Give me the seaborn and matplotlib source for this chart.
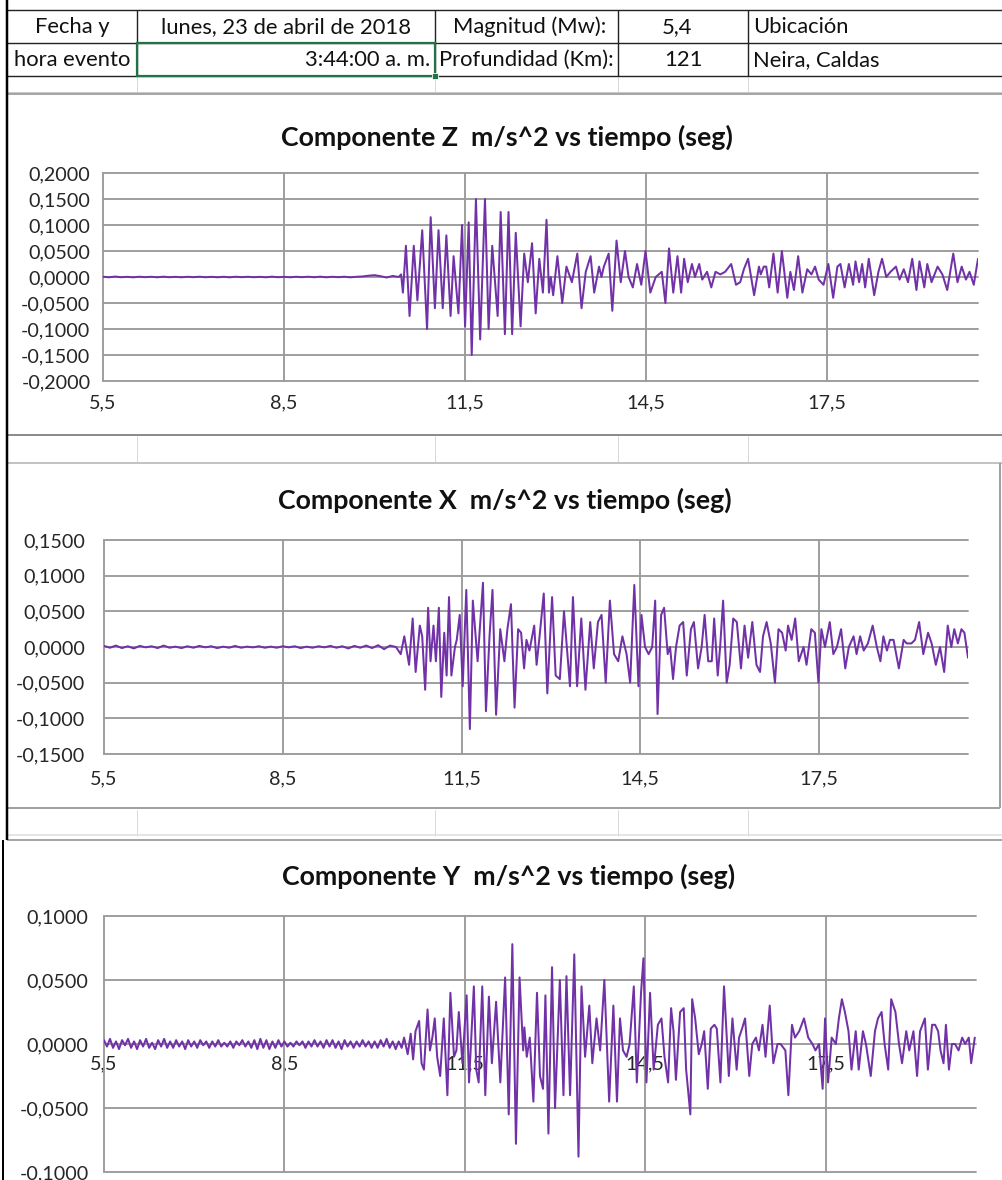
import numpy as np
import matplotlib
matplotlib.use("Agg")
import matplotlib.pyplot as plt
import seaborn as sns
from matplotlib.ticker import FuncFormatter, MultipleLocator, FixedLocator
from matplotlib.patches import Rectangle

# ---------------- data ----------------
x_ticks = [5.5, 8.5, 11.5, 14.5, 17.5]
titles = ["Componente Z  m/s^2 vs tiempo (seg)",
          "Componente X  m/s^2 vs tiempo (seg)",
          "Componente Y  m/s^2 vs tiempo (seg)"]

# quiet pre-event samples (regular sampling grid)
quiet_t = np.round(np.arange(5.5, 10.35, 0.1), 2)
quiet_t_y = np.round(np.arange(5.5, 10.38, 0.05), 2)

z_quiet = [0.0005, -0.0005, 0.0008, -0.0004, 0.0003, -0.0006, 0.0005, -0.0003, 0.0004, -0.0005,
           0.0006, -0.0004, 0.0003, -0.0005, 0.0004, -0.0003, 0.0005, -0.0004, 0.0003, -0.0005,
           0.0004, -0.0006, 0.0005, -0.0003, 0.0004, -0.0004, 0.0003, -0.0005, 0.0006, -0.0004,
           0.0003, -0.0005, 0.0004, -0.0003, 0.0005, -0.0004, 0.0006, -0.0005, 0.0004, -0.0003,
           0.0005, -0.0006, 0.0004, 0.0010, 0.0025, 0.0035, 0.0015, -0.0010, 0.0020]
x_quiet = [0.0015, -0.0010, 0.0020, -0.0015, 0.0010, -0.0020, 0.0015, -0.0005, 0.0010, -0.0015,
           0.0020, -0.0010, 0.0005, -0.0015, 0.0010, -0.0010, 0.0015, -0.0005, 0.0010, -0.0015,
           0.0005, -0.0010, 0.0015, -0.0010, 0.0005, -0.0005, 0.0010, -0.0010, 0.0005, -0.0010,
           0.0010, -0.0005, 0.0010, -0.0015, 0.0005, -0.0010, 0.0010, -0.0005, 0.0015, -0.0010,
           0.0010, -0.0020, 0.0015, -0.0010, 0.0020, -0.0015, 0.0025, -0.0030, 0.0020]
y_quiet = [0.003, -0.002, 0.004, -0.003, 0.002, -0.004, 0.003, -0.001, 0.004, -0.003,
           0.002, -0.004, 0.003, -0.002, 0.004, -0.003, 0.001, -0.004, 0.003, -0.002,
           0.004, -0.003, 0.002, -0.003, 0.003, -0.002, 0.002, -0.004, 0.003, -0.002,
           0.002, -0.003, 0.003, -0.001, 0.002, -0.003, 0.002, -0.002, 0.003, -0.002,
           0.001, -0.002, 0.002, -0.003, 0.002, -0.001, 0.003, -0.002, 0.002, -0.003,
           0.003, -0.004, 0.004, -0.003, 0.003, -0.004, 0.002, -0.003, 0.003, -0.002,
           0.002, -0.002, 0.001, -0.002, 0.002, -0.001, 0.002, -0.003, 0.002, -0.002,
           0.003, -0.002, 0.002, -0.003, 0.003, -0.002, 0.003, -0.003, 0.002, -0.004,
           0.003, -0.002, 0.002, -0.003, 0.002, -0.002, 0.003, -0.002, 0.002, -0.003,
           0.002, -0.003, 0.003, -0.002, 0.004, -0.003, 0.002, -0.004]

# event: turning points (time s, acceleration m/s^2)
z_time = [10.40, 10.44, 10.47, 10.52, 10.58, 10.65, 10.71, 10.79, 10.87, 10.93, 11.00, 11.06, 11.13,
          11.19, 11.26, 11.31, 11.39, 11.45, 11.50, 11.56, 11.61, 11.68, 11.75, 11.83, 11.89, 11.95,
          12.04, 12.09, 12.16, 12.22, 12.28, 12.34, 12.42, 12.48, 12.54, 12.61, 12.67, 12.73, 12.79,
          12.85, 12.89, 12.92, 12.96, 13.03, 13.11, 13.18, 13.27, 13.36, 13.43, 13.50, 13.58, 13.64,
          13.72, 13.76, 13.80, 13.88, 13.94, 14.01, 14.08, 14.15, 14.21, 14.28, 14.35, 14.42, 14.49,
          14.57, 14.66, 14.76, 14.82, 14.88, 14.95, 15.02, 15.08, 15.13, 15.19, 15.26, 15.31, 15.38,
          15.43, 15.51, 15.58, 15.65, 15.73, 15.81, 15.91, 15.99, 16.06, 16.12, 16.19, 16.29, 16.37,
          16.40, 16.45, 16.49, 16.54, 16.61, 16.68, 16.75, 16.84, 16.89, 16.95, 17.02, 17.09, 17.17,
          17.24, 17.30, 17.36, 17.44, 17.52, 17.60, 17.67, 17.72, 17.79, 17.86, 17.93, 17.97, 18.03,
          18.08, 18.13, 18.19, 18.28, 18.35, 18.41, 18.48, 18.55, 18.64, 18.70, 18.77, 18.84, 18.91,
          18.98, 19.03, 19.11, 19.16, 19.23, 19.33, 19.41, 19.49, 19.59, 19.66, 19.73, 19.80, 19.86,
          19.93, 20.00]
z_acc = [0.000, 0.005, -0.030, 0.060, -0.075, 0.060, -0.045, 0.090, -0.100, 0.115, -0.060, 0.090, -0.060,
         0.080, -0.075, 0.040, -0.070, 0.100, -0.095, 0.105, -0.150, 0.150, -0.120, 0.150, -0.100, 0.060,
         -0.075, 0.125, -0.110, 0.125, -0.110, 0.085, -0.095, 0.045, -0.010, 0.065, -0.070, 0.035, -0.030,
         0.110, -0.030, 0.000, -0.035, 0.040, -0.050, 0.020, -0.010, 0.045, -0.060, 0.010, 0.040, -0.030,
         0.020, 0.000, 0.020, 0.045, -0.065, 0.070, -0.010, 0.050, 0.000, -0.020, 0.025, -0.015, 0.050,
         -0.030, 0.000, 0.010, -0.050, 0.055, -0.030, 0.040, -0.030, 0.035, -0.010, 0.025, 0.000, 0.025,
         -0.005, 0.010, -0.020, 0.010, 0.005, 0.010, 0.025, -0.015, -0.010, 0.015, 0.035, -0.035, 0.020,
         0.005, 0.020, 0.020, -0.020, 0.045, -0.030, 0.050, -0.040, 0.010, -0.025, 0.040, -0.030, 0.015,
         0.005, 0.020, -0.005, -0.015, 0.025, -0.040, 0.020, 0.025, -0.020, 0.025, -0.015, 0.030, -0.010,
         0.025, -0.020, 0.035, -0.035, 0.010, 0.035, 0.000, 0.010, 0.020, -0.005, 0.015, -0.010, 0.035,
         -0.025, 0.030, -0.020, 0.025, -0.010, 0.020, 0.005, -0.025, 0.045, -0.010, 0.020, -0.005, 0.010,
         -0.015, 0.035]

x_time = [10.40, 10.48, 10.54, 10.62, 10.68, 10.73, 10.80, 10.84, 10.89, 10.94, 10.98, 11.03, 11.07,
          11.12, 11.16, 11.21, 11.25, 11.29, 11.33, 11.39, 11.42, 11.47, 11.52, 11.58, 11.64, 11.69,
          11.77, 11.86, 11.91, 11.97, 12.02, 12.08, 12.15, 12.22, 12.27, 12.33, 12.39, 12.45, 12.50,
          12.55, 12.59, 12.64, 12.72, 12.76, 12.81, 12.88, 12.94, 13.02, 13.08, 13.15, 13.22, 13.32,
          13.37, 13.44, 13.51, 13.58, 13.66, 13.72, 13.79, 13.85, 13.92, 13.99, 14.06, 14.13, 14.20,
          14.27, 14.33, 14.40, 14.47, 14.52, 14.58, 14.64, 14.70, 14.75, 14.79, 14.85, 14.90, 14.96,
          15.00, 15.05, 15.10, 15.16, 15.22, 15.28, 15.35, 15.40, 15.47, 15.53, 15.58, 15.64, 15.70,
          15.74, 15.80, 15.84, 15.89, 15.95, 16.00, 16.06, 16.12, 16.19, 16.25, 16.31, 16.38, 16.45,
          16.51, 16.56, 16.62, 16.69, 16.76, 16.82, 16.88, 16.94, 16.98, 17.04, 17.10, 17.16, 17.24,
          17.29, 17.37, 17.43, 17.49, 17.54, 17.60, 17.68, 17.74, 17.80, 17.87, 17.94, 18.00, 18.08,
          18.13, 18.19, 18.25, 18.32, 18.40, 18.47, 18.53, 18.58, 18.64, 18.69, 18.75, 18.84, 18.92,
          18.97, 19.05, 19.11, 19.18, 19.25, 19.33, 19.39, 19.46, 19.53, 19.60, 19.66, 19.72, 19.77,
          19.83, 19.89, 19.94, 20.00]
x_acc = [0.000, -0.010, 0.015, -0.025, 0.040, -0.035, 0.030, 0.015, -0.060, 0.055, -0.020, 0.030, -0.020,
         0.055, -0.070, 0.020, -0.040, 0.070, -0.040, 0.000, 0.010, 0.045, -0.055, 0.080, -0.115, 0.065,
         -0.020, 0.090, -0.090, 0.015, 0.080, -0.095, 0.025, -0.020, 0.025, 0.060, -0.085, 0.025, 0.020,
         -0.030, 0.010, -0.005, 0.030, -0.025, 0.015, 0.075, -0.065, 0.070, -0.040, -0.045, 0.050, -0.055,
         0.070, -0.055, 0.040, -0.060, 0.035, -0.030, 0.035, 0.045, -0.050, 0.065, -0.010, -0.020, 0.015,
         -0.010, -0.050, 0.087, -0.055, 0.045, 0.000, -0.010, 0.000, 0.065, -0.094, 0.045, 0.055, -0.010,
         0.000, -0.045, 0.000, 0.030, 0.035, -0.040, 0.025, 0.035, -0.030, 0.000, 0.045, -0.020, -0.020,
         0.040, -0.040, 0.000, 0.065, -0.050, -0.025, 0.040, 0.035, -0.030, 0.030, -0.015, 0.035, -0.025,
         -0.035, 0.015, 0.035, 0.005, -0.050, 0.025, 0.020, -0.005, 0.030, 0.010, 0.040, -0.020, 0.000,
         -0.025, 0.025, 0.020, -0.050, 0.025, 0.000, 0.035, -0.010, 0.000, 0.025, -0.030, 0.000, 0.015,
         -0.010, 0.015, -0.005, 0.005, 0.030, 0.000, -0.020, 0.015, -0.005, 0.010, 0.010, -0.030, 0.010,
         0.005, 0.005, 0.010, 0.035, -0.010, 0.020, 0.005, -0.025, 0.000, -0.035, 0.030, 0.000, 0.025,
         0.005, 0.025, 0.020, -0.015]

y_time = [10.40, 10.45, 10.49, 10.55, 10.60, 10.64, 10.68, 10.74, 10.78, 10.82, 10.88, 10.92, 10.96,
          11.00, 11.04, 11.09, 11.15, 11.21, 11.26, 11.32, 11.36, 11.40, 11.46, 11.53, 11.57, 11.65,
          11.69, 11.73, 11.79, 11.84, 11.90, 11.95, 12.02, 12.09, 12.17, 12.23, 12.29, 12.35, 12.41,
          12.47, 12.49, 12.53, 12.58, 12.64, 12.70, 12.75, 12.80, 12.84, 12.89, 12.95, 13.00, 13.08,
          13.14, 13.19, 13.25, 13.32, 13.39, 13.44, 13.50, 13.57, 13.62, 13.69, 13.75, 13.82, 13.90,
          13.97, 14.03, 14.08, 14.13, 14.19, 14.24, 14.31, 14.36, 14.43, 14.47, 14.52, 14.58, 14.64,
          14.71, 14.77, 14.82, 14.88, 14.93, 14.97, 15.01, 15.08, 15.14, 15.18, 15.25, 15.28, 15.33,
          15.39, 15.44, 15.48, 15.54, 15.59, 15.65, 15.69, 15.75, 15.81, 15.89, 15.95, 16.02, 16.06,
          16.11, 16.16, 16.23, 16.28, 16.34, 16.39, 16.45, 16.50, 16.57, 16.63, 16.70, 16.75, 16.83,
          16.88, 16.94, 16.99, 17.06, 17.14, 17.21, 17.28, 17.33, 17.39, 17.45, 17.49, 17.54, 17.60,
          17.67, 17.72, 17.77, 17.82, 17.88, 17.93, 18.00, 18.05, 18.12, 18.17, 18.25, 18.32, 18.37,
          18.43, 18.48, 18.54, 18.59, 18.66, 18.72, 18.77, 18.84, 18.89, 18.96, 19.02, 19.07, 19.15,
          19.20, 19.27, 19.32, 19.37, 19.41, 19.46, 19.50, 19.55, 19.60, 19.65, 19.71, 19.77, 19.82,
          19.88, 19.92, 19.98]
y_acc = [0.002, -0.003, 0.005, -0.008, 0.008, -0.012, 0.010, 0.018, -0.015, -0.020, 0.027, -0.005, 0.005,
         0.020, -0.010, -0.025, 0.020, -0.040, 0.040, -0.010, -0.005, 0.025, -0.015, 0.038, -0.030, 0.045,
         -0.020, -0.030, 0.045, -0.040, 0.037, -0.015, 0.033, -0.030, 0.052, -0.055, 0.078, -0.078, 0.052,
         -0.005, 0.013, -0.010, 0.005, -0.045, 0.040, -0.025, -0.035, 0.038, -0.070, 0.060, -0.050, 0.050,
         -0.040, 0.053, -0.040, 0.070, -0.088, 0.045, -0.010, 0.030, -0.015, 0.020, -0.005, 0.050, -0.045,
         0.030, -0.045, 0.020, -0.005, -0.010, 0.000, 0.045, -0.030, 0.040, 0.067, -0.030, 0.040, -0.020,
         0.015, 0.020, -0.010, -0.030, 0.028, 0.010, -0.028, 0.025, 0.028, -0.020, -0.055, 0.035, 0.020,
         -0.008, 0.000, 0.010, -0.035, 0.012, 0.015, 0.012, -0.030, 0.045, -0.025, 0.020, -0.020, 0.005,
         0.012, 0.020, -0.025, 0.000, 0.005, -0.005, 0.015, -0.010, 0.030, -0.015, 0.000, 0.000, -0.005,
         -0.040, 0.015, 0.005, 0.010, 0.020, 0.005, 0.000, -0.005, 0.000, -0.035, 0.020, -0.030, 0.005,
         0.000, 0.020, 0.035, 0.025, 0.010, -0.020, 0.010, -0.020, 0.010, 0.000, -0.025, 0.010, 0.020,
         0.025, 0.000, -0.020, 0.035, 0.025, 0.000, -0.015, 0.010, -0.005, 0.010, -0.025, 0.010, 0.020,
         -0.020, 0.015, 0.015, 0.010, -0.005, -0.015, 0.015, -0.020, 0.000, 0.000, -0.005, 0.005, 0.000,
         0.005, -0.015, 0.005]

# ---------------- style ----------------
sns.set_theme(style="white")
plt.rcParams['font.family'] = ['Lato', 'DejaVu Sans']

W, H = 1003, 1180
PX = 0.72  # points per pixel at dpi 100
fig = plt.figure(figsize=(W / 100, H / 100), dpi=100)
fig.patch.set_facecolor("white")

bg = fig.add_axes([0, 0, 1, 1], zorder=0)
bg.set_xlim(0, W)
bg.set_ylim(H, 0)
bg.axis("off")


def seg(x0, y0, x1, y1, color, lw_px):
    bg.plot([x0, x1], [y0, y1], color=color, lw=lw_px * PX, solid_capstyle="butt")


TXT = "#111111"
# ---- spreadsheet table ----
cols = [7, 137, 435, 618, 748]
for x in cols[1:]:
    seg(x, 10, x, 76, "#222222", 1.4)
    seg(x, 76, x, 93, "#d9d9d9", 1.0)
for y in (10, 43, 76):
    seg(7, y, W, y, "#222222", 1.4)
seg(7, 92, W, 92, "#c8c8c8", 1.0)
# selected cell
bg.add_patch(Rectangle((137, 43), 298, 33, fill=False, ec="#217346", lw=2.2 * PX, zorder=5))
bg.add_patch(Rectangle((432, 73), 6, 6, fc="#217346", ec="white", lw=0.8 * PX, zorder=6))

fs_tab = 15.8
bg.text(72, 27, "Fecha y", ha="center", va="center", fontsize=fs_tab, color=TXT)
bg.text(72, 60, "hora evento", ha="center", va="center", fontsize=fs_tab, color=TXT)
bg.text(286, 27, "lunes, 23 de abril de 2018", ha="center", va="center", fontsize=fs_tab, color=TXT)
bg.text(430, 60, "3:44:00 a. m.", ha="right", va="center", fontsize=fs_tab, color=TXT)
bg.text(530, 27, "Magnitud (Mw):", ha="center", va="center", fontsize=fs_tab, color=TXT)
bg.text(439, 60, "Profundidad (Km):", ha="left", va="center", fontsize=fs_tab, color=TXT)
bg.text(677, 27, "5,4", ha="center", va="center", fontsize=fs_tab, color=TXT)
bg.text(683, 60, "121", ha="center", va="center", fontsize=fs_tab, color=TXT)
bg.text(753, 27, "Ubicación", ha="left", va="center", fontsize=fs_tab, color=TXT)
bg.text(753, 60, "Neira, Caldas", ha="left", va="center", fontsize=fs_tab, color=TXT)

# chart frames and sheet strips between charts
seg(7, 94, W, 94, "#a6a6a6", 2.0)
seg(7, 435, W, 435, "#8c8c8c", 2.0)
for x in cols[1:]:
    seg(x, 436, x, 462, "#d9d9d9", 1.0)
seg(7, 463, W, 463, "#b0b0b0", 1.5)
seg(1000, 463, 1000, 808, "#a0a0a0", 2.0)
seg(7, 808, 1000, 808, "#a0a0a0", 2.0)
for x in cols[1:]:
    seg(x, 810, x, 836, "#d9d9d9", 1.0)
seg(7, 835, W, 835, "#dddddd", 1.5)
seg(7, 840, W, 840, "#a6a6a6", 2.0)
seg(7, 0, 7, 840, "#000000", 2.5)
seg(3, 840, 3, H, "#000000", 2.0)

# ---------------- charts ----------------
LINE = "#7132A8"
GRID = "#9a9a9a"
panels = [
    dict(box=(103, 173, 978, 381), ylim=(-0.2, 0.2), qt=quiet_t, qv=z_quiet, t=z_time, a=z_acc,
         title=titles[0], ty=137, tx=507, ypad=9.0, xpad=9.5, zero_axis=False),
    dict(box=(104, 540, 968, 754), ylim=(-0.15, 0.15), qt=quiet_t, qv=x_quiet, t=x_time, a=x_acc,
         title=titles[1], ty=500, tx=505, ypad=13.5, xpad=12.0, zero_axis=False),
    dict(box=(104, 916, 976, 1172), ylim=(-0.1, 0.1), qt=quiet_t_y, qv=y_quiet, t=y_time, a=y_acc,
         title=titles[2], ty=876, tx=509, ypad=11.0, xpad=8.5, zero_axis=True),
]

yfmt = FuncFormatter(lambda v, p: ("%.4f" % (0.0 if abs(v) < 1e-9 else v)).replace(".", ","))
xfmt = FuncFormatter(lambda v, p: ("%.1f" % v).replace(".", ","))

for pn in panels:
    l, t, r, b = pn["box"]
    ax = fig.add_axes([l / W, 1 - b / H, (r - l) / W, (b - t) / H], zorder=2)
    ax.set_facecolor("none")
    tt = np.concatenate([pn["qt"], np.array(pn["t"])])
    aa = np.concatenate([np.array(pn["qv"]), np.array(pn["a"])])
    sns.lineplot(x=tt, y=aa, ax=ax, color=LINE, linewidth=1.45, estimator=None, sort=False, zorder=3)
    ax.set_xlim(5.5, 20.0)
    ax.set_ylim(*pn["ylim"])
    ax.xaxis.set_major_locator(FixedLocator(x_ticks))
    ax.yaxis.set_major_locator(MultipleLocator(0.05))
    ax.xaxis.set_major_formatter(xfmt)
    ax.yaxis.set_major_formatter(yfmt)
    ax.set_xlabel("")
    ax.set_ylabel("")
    yt = np.arange(pn["ylim"][0], pn["ylim"][1] + 1e-9, 0.05)
    for yv in yt:
        ax.axhline(yv, color=GRID, lw=1.35, zorder=1, clip_on=False)
    for xv in x_ticks:
        ax.axvline(xv, color=GRID, lw=1.35, zorder=1, clip_on=False)
    for s in ax.spines.values():
        s.set_visible(False)
    if pn["zero_axis"]:
        ax.spines["bottom"].set_position(("data", 0))
    ax.tick_params(axis="y", length=0, pad=pn["ypad"], labelsize=14.2, labelcolor="#262626")
    ax.tick_params(axis="x", length=0, pad=pn["xpad"], labelsize=14.2, labelcolor="#262626")
    bg.text(pn["tx"], pn["ty"], pn["title"], ha="center", va="center", fontsize=19.3,
            fontweight="bold", color="#111111")

fig.savefig("out.png", dpi=100)
